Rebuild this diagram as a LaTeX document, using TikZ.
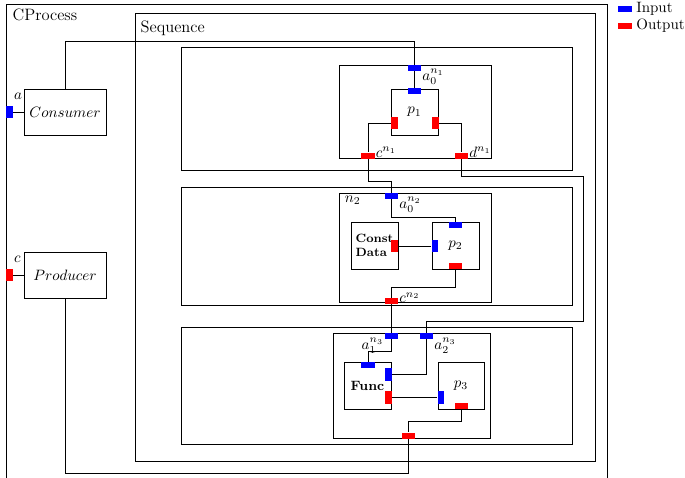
\documentclass[tikz,border=0pt]{standalone}
\usetikzlibrary{positioning}
\newcommand{\upx}{0.6667pt}
\tikzset{
    sz/.style n args={2}{minimum width=#1*\upx, minimum height=#2*\upx}
}

\begin{document}
\begin{tikzpicture}[
    x=0.6667pt, y=-0.6667pt,
    every node/.style={inner sep=0pt},
    box/.style={draw, line width=0.5pt},
    port/.style={draw=none, minimum width=8.7pt, minimum height=4pt},
    vport/.style={draw=none, minimum width=4.3pt, minimum height=8.4pt},
    inp/.style={fill=blue},
    outp/.style={fill=red},
    wire/.style={line width=0.5pt},
    lbl/.style={inner sep=0.5pt},
    title/.style={font=\fontsize{11}{13}\selectfont, inner sep=3pt}
]
  \useasboundingbox (0,0) rectangle (685,477);
  \clip (0,0) rectangle (685,477);

  % 1. Outer process and sequence
  \node[box, sz={601}{486}] (cproc) at (306.5,247) {};
  \node[title, anchor=north west, inner xsep=4.5pt] (cproclbl) at (cproc.north west) {CProcess};
  \node[box, sz={460}{448}] (seq) at (365,237) {};
  \node[title, anchor=north west, inner xsep=3.8pt, inner ysep=5pt] (seqlbl) at (seq.north west) {Sequence};

  % 2. Stages
  \node[box, sz={391}{123}] (st1) at (376.5,108.5) {};
  \node[box, sz={391}{118}] (st2) at (376.5,246) {};
  \node[box, sz={391}{117}] (st3) at (376.5,385.5) {};

  % 3. Node n1
  \node[box, sz={152}{93}] (n1) at (415,111.5) {};
  \node[box, sz={47}{46}] (p1) at (414.5,112) {$p_1$};

  % 4. Node n2
  \node[box, sz={152}{109}] (n2) at (415,247.5) {};
  \node[lbl, anchor=north west, inner xsep=4pt, inner ysep=2pt] (n2lbl) at (n2.north west) {$n_2$};
  \node[box, sz={47}{47}, align=left, font=\footnotesize\bfseries] (cdat) at (374.5,245.5) {Const\\Data};
  \node[box, sz={47}{47}] (p2) at (455.5,245.5) {$p_2$};

  % 5. Node n3
  \node[box, sz={157}{105}] (n3) at (411.5,385.5) {};
  \node[box, sz={47}{47}, font=\small\bfseries] (func) at (367.5,385.5) {Func};
  \node[box, sz={46}{47}] (p3) at (461,385.5) {$p_3$};

  % 6. Consumer and producer
  \node[box, sz={82}{46}] (cons) at (65,112) {$Consumer$};
  \node[box, sz={82}{46}] (prod) at (65,275) {$Producer$};

  % 7. Ports
  \node[vport, inp] (pa) at (9.5,112) {};
  \node[vport, outp] (pc) at (9.5,275) {};
  \node[port, inp] (a0n1) at (414.5,68) {};
  \node[port, inp] (p1in) at (414.5,91) {};
  \node[vport, outp] (p1l) at (394.5,123) {};
  \node[vport, outp] (p1r) at (435.5,123) {};
  \node[port, outp] (cn1) at (368,155.5) {};
  \node[port, outp] (dn1) at (461.5,155.5) {};
  \node[port, inp] (a0n2) at (391.5,196) {};
  \node[vport, outp] (cdout) at (394.5,246) {};
  \node[port, inp] (p2t) at (455.5,225) {};
  \node[vport, inp] (p2l) at (435,246) {};
  \node[port, outp] (p2b) at (455.5,266) {};
  \node[port, outp] (cn2) at (391.5,301) {};
  \node[port, inp] (a1n3) at (391.5,336) {};
  \node[port, inp] (a2n3) at (426.5,336) {};
  \node[port, inp] (ft) at (368,365) {};
  \node[vport, inp] (fr) at (388.5,374.5) {};
  \node[vport, outp] (fo) at (388.5,397.5) {};
  \node[vport, inp] (p3l) at (441,397.5) {};
  \node[port, outp] (p3b) at (461.5,406) {};
  \node[port, outp] (out3) at (408.5,435.5) {};

  % Port labels
  \node[lbl, anchor=south west, yshift=3pt] (palbl) at (pa.north east) {$a$};
  \node[lbl, anchor=south west, yshift=3pt] (pclbl) at (pc.north east) {$c$};
  \node[lbl, anchor=north west, yshift=2pt] (a0n1lbl) at (a0n1.south east) {$a_0^{n_1}$};
  \node[lbl, anchor=base west, yshift=1pt] (cn1lbl) at (cn1.south east) {$c^{n_1}$};
  \node[lbl, anchor=base west, yshift=1pt] (dn1lbl) at (dn1.south east) {$d^{n_1}$};
  \node[lbl, anchor=north west, yshift=2pt] (a0n2lbl) at (a0n2.south east) {$a_0^{n_2}$};
  \node[lbl, anchor=base west, yshift=1pt] (cn2lbl) at (cn2.south east) {$c^{n_2}$};
  \node[lbl, anchor=north east, yshift=1.5pt] (a1n3lbl) at (a1n3.south west) {$a_1^{n_3}$};
  \node[lbl, anchor=north west, yshift=1.5pt] (a2n3lbl) at (a2n3.south east) {$a_2^{n_3}$};

  % 8. Wires
  \draw[wire] (pa.east) -- (cons.west);
  \draw[wire] (pc.east) -- (prod.west);
  \draw[wire] (a0n1.north) -- ++(0,-23) -| (cons.north);
  \draw[wire] (a0n1.south) -- (p1in.north);
  \draw[wire] (p1l.west) -| (cn1.north);
  \draw[wire] (p1r.east) -| (dn1.north);
  \draw[wire] (cn1.south) -- ++(0,22.5) -| (a0n2.north);
  \draw[wire] (dn1.south) -- ++(0,17.5) -| ++(122,145) -| (a2n3.north);
  \draw[wire] (a0n2.south) -- ++(0,18) -| (p2t.north);
  \draw[wire] (cdout.east) -- (p2l.west);
  \draw[wire] (p2b.south) -- ++(0,18) -| (cn2.north);
  \draw[wire] (cn2.south) -- (a1n3.north);
  \draw[wire] (a1n3.south) -- ++(0,12) -| (ft.north);
  \draw[wire] (a2n3.south) |- (fr.east);
  \draw[wire] (fo.east) -- (p3l.west);
  \draw[wire] (p3b.south) -- ++(0,12) -| (out3.north);
  \draw[wire] (out3.south) -- ++(0,34.5) -| (prod.south);

  % 9. Legend
  \node[port, inp, minimum width=9.3pt] (lgin) at (625,9) {};
  \node[right=2.5pt of lgin] (lgintxt) {Input};
  \node[port, outp, minimum width=9.3pt] (lgout) at (625,26) {};
  \node[right=2.5pt of lgout] (lgouttxt) {Output};
\end{tikzpicture}
\end{document}
